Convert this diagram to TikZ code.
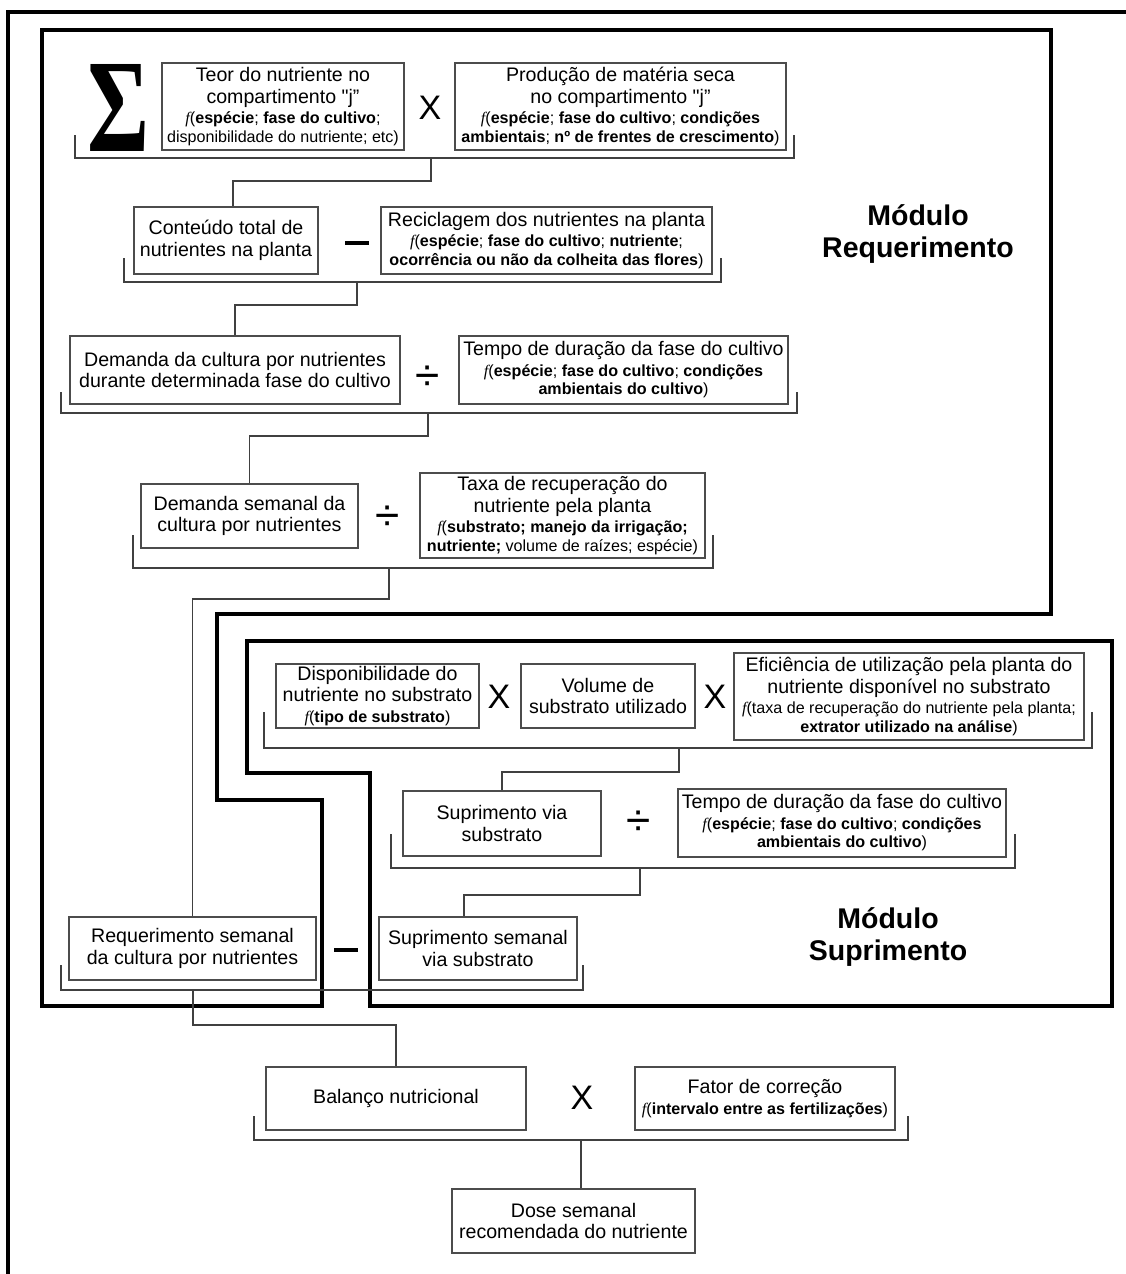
\documentclass[tikz,border=0pt]{standalone}
\usepackage{fontspec}
\setmainfont{Liberation Sans}
\newfontfamily\serifface{Liberation Serif}
\newfontfamily\quoteface{Liberation Sans}
\usepackage{graphicx}
\usetikzlibrary{positioning}

\newcommand\maintxt{\fontsize{19.6}{21.5}\selectfont}
\newcommand\subtxt{\fontsize{16.1}{18}\selectfont}
\newcommand\ffn{{\serifface\itshape f}}
\newcommand\sq{{\quoteface"}}

\begin{document}
\begin{tikzpicture}[
  x=1pt, y=-1pt,
  box/.style={
    rectangle, draw=black!70, line width=1.2pt,
    align=center, inner sep=0pt, font=\maintxt,
  },
  op/.style={inner sep=0pt, font=\fontsize{34}{34}\selectfont},
  divop/.style={inner sep=0pt, font=\fontsize{44}{44}\selectfont},
  link/.style={draw=black!75, line width=1.1pt},
  frame/.style={draw=black, line width=3.6pt},
  modlabel/.style={font=\bfseries\fontsize{28.5}{32}\selectfont, align=center},
]
\useasboundingbox (0,0) rectangle (1126,1274);

% Frames
\draw[frame] (8,1274) -- (8,12) -- (1126,12);
\draw[frame] (42,30) -- (1051,30) -- (1051,614) -- (217,614) -- (217,800)
  -- (322,800) -- (322,1006) -- (42,1006) -- cycle;
\draw[frame] (247,641) -- (1112,641) -- (1112,1006) -- (370,1006)
  -- (370,773) -- (247,773) -- cycle;

% Module labels
\node[modlabel] (modreq) at (918,234) {Módulo\\Requerimento};
\node[modlabel] (modsup) at (888,937) {Módulo\\Suprimento};

% Row 1: content per compartment
\node[op] (sum) at (119,108) {\resizebox{62pt}{87pt}{\serifface\bfseries Σ}};
\node[box, minimum width=242, minimum height=87] (teor) at (283,106.5)
  {Teor do nutriente no\\compartimento \sq j”\\[-1pt]{\subtxt\ffn(\textbf{espécie}; \textbf{fase do cultivo};}\\[-3pt]{\subtxt disponibilidade do nutriente; etc)}};
\node[op] (times1) at (430,108) {X};
\node[box, minimum width=331, minimum height=87] (prod) at (620.5,106.5)
  {Produção de matéria seca\\no compartimento \sq j”\\[-1pt]{\subtxt\ffn(\textbf{espécie}; \textbf{fase do cultivo}; \textbf{condições}}\\[-3pt]{\subtxt\textbf{ambientais}; \textbf{nº de frentes de crescimento})}};

% Row 2: total content
\node[box, minimum width=184, minimum height=67] (cont) at (226,240.5)
  {Conteúdo total de\\nutrientes na planta};
\node[op] (minus1) at (357,243) {\rule{24pt}{4pt}};
\node[box, minimum width=331, minimum height=67] (recic) at (546.5,240.5)
  {Reciclagem dos nutrientes na planta\\[-1pt]{\subtxt\ffn(\textbf{espécie}; \textbf{fase do cultivo}; \textbf{nutriente};}\\[-3pt]{\subtxt\textbf{ocorrência ou não da colheita das flores})}};

% Row 3: demand per phase
\node[box, minimum width=330, minimum height=68] (dem) at (235,370)
  {Demanda da cultura por nutrientes\\durante determinada fase do cultivo};
\node[divop] (div1) at (428,378) {÷};
\node[box, minimum width=329, minimum height=68] (tempoa) at (623.5,370)
  {Tempo de duração da fase do cultivo\\[-1pt]{\subtxt\ffn(\textbf{espécie}; \textbf{fase do cultivo}; \textbf{condições}}\\[-3pt]{\subtxt\textbf{ambientais do cultivo})}};

% Row 4: weekly demand
\node[box, minimum width=217, minimum height=64] (demsem) at (249.5,516)
  {Demanda semanal da\\cultura por nutrientes};
\node[divop] (div2) at (388,518) {÷};
\node[box, minimum width=285, minimum height=85] (taxa) at (562.5,515.5)
  {Taxa de recuperação do\\nutriente pela planta\\[-1pt]{\subtxt\ffn(\textbf{substrato; manejo da irrigação;}}\\[-3pt]{\subtxt\textbf{nutriente;} volume de raízes; espécie)}};

% Supply row 1
\node[box, minimum width=203, minimum height=64] (disp) at (377.5,696)
  {Disponibilidade do\\nutriente no substrato\\[-1pt]{\subtxt\ffn(\textbf{tipo de substrato})}};
\node[op] (times2) at (499,697) {X};
\node[box, minimum width=174, minimum height=64] (vol) at (608,696)
  {Volume de\\substrato utilizado};
\node[op] (times3) at (715,697) {X};
\node[box, minimum width=350, minimum height=87] (efic) at (909,696.5)
  {Eficiência de utilização pela planta do\\nutriente disponível no substrato\\[-1pt]{\subtxt\ffn(taxa de recuperação do nutriente pela planta;}\\[-3pt]{\subtxt\textbf{extrator utilizado na análise})}};

% Supply row 2
\node[box, minimum width=198, minimum height=65] (supvia) at (502,823.5)
  {Suprimento via\\substrato};
\node[divop] (div3) at (639,823) {÷};
\node[box, minimum width=328, minimum height=68] (tempob) at (842,823)
  {Tempo de duração da fase do cultivo\\[-1pt]{\subtxt\ffn(\textbf{espécie}; \textbf{fase do cultivo}; \textbf{condições}}\\[-3pt]{\subtxt\textbf{ambientais do cultivo})}};

% Balance
\node[box, minimum width=247, minimum height=63] (reqsem) at (192.5,948.5)
  {Requerimento semanal\\da cultura por nutrientes};
\node[op] (minus2) at (346,950) {\rule{24pt}{4pt}};
\node[box, minimum width=198, minimum height=63] (supsem) at (478,948.5)
  {Suprimento semanal\\via substrato};

\node[box, minimum width=260, minimum height=63] (bal) at (396,1098.5)
  {Balanço nutricional};
\node[op] (times4) at (582,1098) {X};
\node[box, minimum width=260, minimum height=63] (fator) at (765,1098.5)
  {Fator de correção\\[-1pt]{\subtxt\ffn(\textbf{intervalo entre as fertilizações})}};

\node[box, minimum width=243, minimum height=64] (dose) at (573.5,1221)
  {Dose semanal\\recomendada do nutriente};

% Bracket points
\coordinate (b1l) at (75,135);   \coordinate (b1r) at (794,135);  \coordinate (b1j) at (431,158);
\coordinate (b2l) at (124,258);  \coordinate (b2r) at (721,258);  \coordinate (b2j) at (357,282);
\coordinate (b3l) at (61,392);   \coordinate (b3r) at (797,392);  \coordinate (b3j) at (428,413);
\coordinate (b4l) at (133,535);  \coordinate (b4r) at (713,535);  \coordinate (b4j) at (389,568);
\coordinate (b5l) at (264,712);  \coordinate (b5r) at (1092,712); \coordinate (b5j) at (679,748);
\coordinate (b6l) at (391,834);  \coordinate (b6r) at (1015,834); \coordinate (b6j) at (640,868);
\coordinate (b7l) at (61,965);   \coordinate (b7r) at (583,965);  \coordinate (b7j) at (193,990);
\coordinate (b8l) at (254,1116); \coordinate (b8r) at (908,1116); \coordinate (b8j) at (581,1140);

% Brackets
\foreach \i in {1,...,8}
  \draw[link] (b\i l) |- (b\i j) -| (b\i r);

% Connectors
\draw[link] (b1j) -- ++(0,23) -| ([xshift=7pt]cont.north);
\draw[link] (b2j) -- ++(0,23) -| (dem.north);
\draw[link] (b3j) -- ++(0,23) -| (demsem.north);
\draw[link] (b4j) -- ++(0,31) -| (reqsem.north);
\draw[link] (b5j) -- ++(0,24) -| (supvia.north);
\draw[link] (b6j) -- ++(0,27) -| ([xshift=-14pt]supsem.north);
\draw[link] (b7j) -- ++(0,35) -| (bal.north);
\draw[link] (b8j) -- (b8j |- dose.north);

\end{tikzpicture}
\end{document}
